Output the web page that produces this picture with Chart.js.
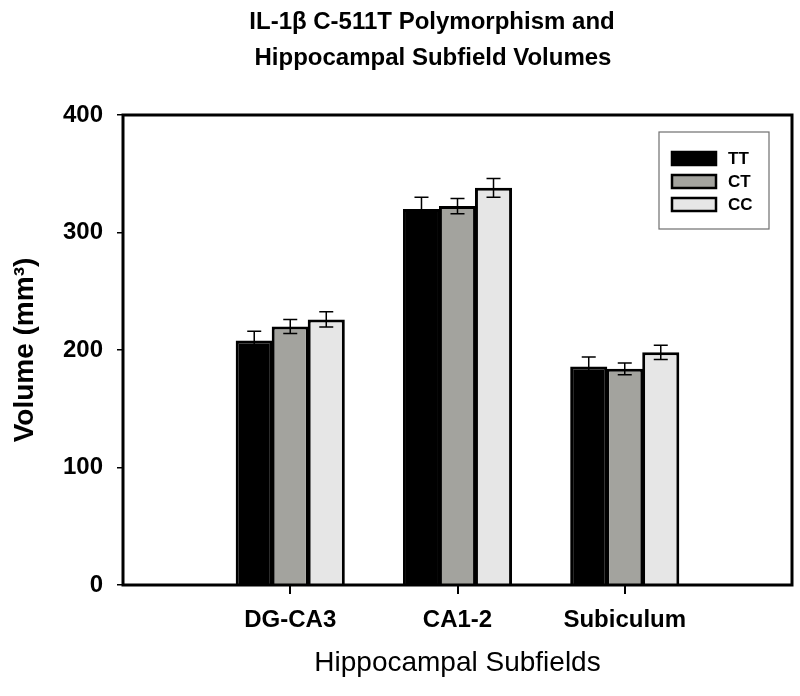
<!DOCTYPE html>
<html>
<head>
<meta charset="utf-8">
<script src="https://cdn.jsdelivr.net/npm/chart.js@4"></script>
<style>
  html, body { margin: 0; padding: 0; background: #fff; }
  #chartBox { width: 800px; height: 696px; }
</style>
</head>
<body>
<div id="chartBox"><canvas id="volumeChart" width="800" height="696"></canvas></div>
<script>
const titleLines = ["IL-1\u03B2 C-511T Polymorphism and", "Hippocampal Subfield Volumes"];
const categories = ["DG-CA3", "CA1-2", "Subiculum"];
const categoryPositions = [1, 2, 3];
const yTicks = [0, 100, 200, 300, 400];

const seriesNames = ["TT", "CT", "CC"];
const ttValues = [208, 320, 186];
const ttErrors = [8, 10, 8];
const ctValues = [220, 322.5, 184];
const ctErrors = [6, 6.5, 5];
const ccValues = [226, 338, 198];
const ccErrors = [6.5, 8, 6];

const FONT = "Arial, 'Liberation Sans', sans-serif";

function toPoints(values) {
  return values.map((v, i) => ({ x: categoryPositions[i], y: v }));
}

// frame round the plot area, and the short ticks below it at each category
const framePlugin = {
  id: "frame",
  afterDraw(chart) {
    const { ctx, chartArea } = chart;
    const xScale = chart.scales.x;
    ctx.save();
    ctx.fillStyle = "#000";
    xScale.ticks.forEach((t) => {
      const px = Math.round(xScale.getPixelForValue(t.value));
      ctx.fillRect(px - 1, chartArea.bottom, 2, 9);
    });
    ctx.strokeStyle = "#000";
    ctx.lineWidth = 3;
    ctx.strokeRect(chartArea.left, chartArea.top, chartArea.right - chartArea.left, chartArea.bottom - chartArea.top);
    ctx.restore();
  }
};

// +/- SE whiskers, placed from the bar elements and the y scale
const errorBarPlugin = {
  id: "errorBars",
  afterDatasetsDraw(chart) {
    const { ctx } = chart;
    const yScale = chart.scales.y;
    ctx.save();
    ctx.strokeStyle = "#000";
    ctx.lineWidth = 1.5;
    chart.data.datasets.forEach((ds, di) => {
      const meta = chart.getDatasetMeta(di);
      meta.data.forEach((bar, i) => {
        const v = ds.data[i].y;
        const e = ds.errors[i];
        const top = yScale.getPixelForValue(v + e);
        const bottom = yScale.getPixelForValue(v - e);
        const half = 7;
        ctx.beginPath();
        ctx.moveTo(bar.x, top);
        ctx.lineTo(bar.x, bottom);
        ctx.moveTo(bar.x - half, top);
        ctx.lineTo(bar.x + half, top);
        ctx.moveTo(bar.x - half, bottom);
        ctx.lineTo(bar.x + half, bottom);
        ctx.stroke();
      });
    });
    ctx.restore();
  }
};

// boxed legend in the upper right of the plot
const boxLegendPlugin = {
  id: "boxLegend",
  afterDraw(chart) {
    const { ctx, chartArea } = chart;
    const x0 = chartArea.right - 133;
    const y0 = chartArea.top + 17;
    ctx.save();
    ctx.strokeStyle = "#6f6f6f";
    ctx.lineWidth = 1.2;
    ctx.strokeRect(x0, y0, 110, 97);
    ctx.font = "bold 17px " + FONT;
    ctx.textBaseline = "middle";
    ctx.textAlign = "left";
    chart.data.datasets.forEach((ds, i) => {
      const sy = y0 + 20 + i * 23;
      ctx.fillStyle = ds.backgroundColor;
      ctx.fillRect(x0 + 13, sy, 44, 13);
      ctx.strokeStyle = "#000";
      ctx.lineWidth = 2.5;
      ctx.strokeRect(x0 + 13, sy, 44, 13);
      ctx.fillStyle = "#000";
      ctx.fillText(ds.label, x0 + 69, sy + 7);
    });
    ctx.restore();
  }
};

const twoLineTitlePlugin = {
  id: "twoLineTitle",
  afterDraw(chart) {
    const { ctx } = chart;
    ctx.save();
    ctx.font = "bold 24px " + FONT;
    ctx.fillStyle = "#000";
    ctx.textAlign = "center";
    ctx.textBaseline = "alphabetic";
    ctx.fillText(titleLines[0], 432, 29);
    ctx.fillText(titleLines[1], 433, 65);
    ctx.restore();
  }
};

new Chart(document.getElementById("volumeChart"), {
  type: "bar",
  data: {
    datasets: [
      { label: seriesNames[0], data: toPoints(ttValues), errors: ttErrors, backgroundColor: "#000000", borderColor: "#000", borderWidth: 3 },
      { label: seriesNames[1], data: toPoints(ctValues), errors: ctErrors, backgroundColor: "#a3a39e", borderColor: "#000", borderWidth: 3 },
      { label: seriesNames[2], data: toPoints(ccValues), errors: ccErrors, backgroundColor: "#e6e6e6", borderColor: "#000", borderWidth: 3 }
    ]
  },
  options: {
    responsive: false,
    animation: false,
    categoryPercentage: 0.646,
    barPercentage: 1.03,
    layout: { padding: { top: 115, right: 8, bottom: 0, left: 0 } },
    plugins: {
      legend: { display: false },
      title: { display: false },
      tooltip: { enabled: false }
    },
    scales: {
      x: {
        type: "linear",
        min: 0,
        max: 4,
        offset: false,
        afterBuildTicks(scale) {
          scale.ticks = categoryPositions.map((v) => ({ value: v }));
        },
        afterFit(scale) {
          scale.height = 111;
        },
        border: { display: false },
        grid: { display: false, drawTicks: false },
        ticks: {
          color: "#000",
          padding: 21,
          maxRotation: 0,
          font: { family: FONT, size: 24, weight: "bold" },
          callback: (value) => categories[categoryPositions.indexOf(value)]
        },
        title: {
          display: true,
          text: "Hippocampal Subfields",
          color: "#000",
          font: { family: FONT, size: 28, weight: "normal" },
          padding: { top: 0, bottom: 16 }
        }
      },
      y: {
        min: 0,
        max: 400,
        afterBuildTicks(scale) {
          scale.ticks = yTicks.map((v) => ({ value: v }));
        },
        afterFit(scale) {
          scale.width = 123;
        },
        border: { display: false },
        grid: { drawOnChartArea: false, drawTicks: true, tickLength: 6, color: "#000", lineWidth: 1.5 },
        ticks: {
          color: "#000",
          padding: 14,
          font: { family: FONT, size: 24, weight: "bold" }
        },
        title: {
          display: true,
          text: "Volume (mm\u00B3)",
          color: "#000",
          font: { family: FONT, size: 28, weight: "bold" },
          padding: { top: 8, bottom: 0 }
        }
      }
    }
  },
  plugins: [errorBarPlugin, framePlugin, boxLegendPlugin, twoLineTitlePlugin]
});
</script>
</body>
</html>
